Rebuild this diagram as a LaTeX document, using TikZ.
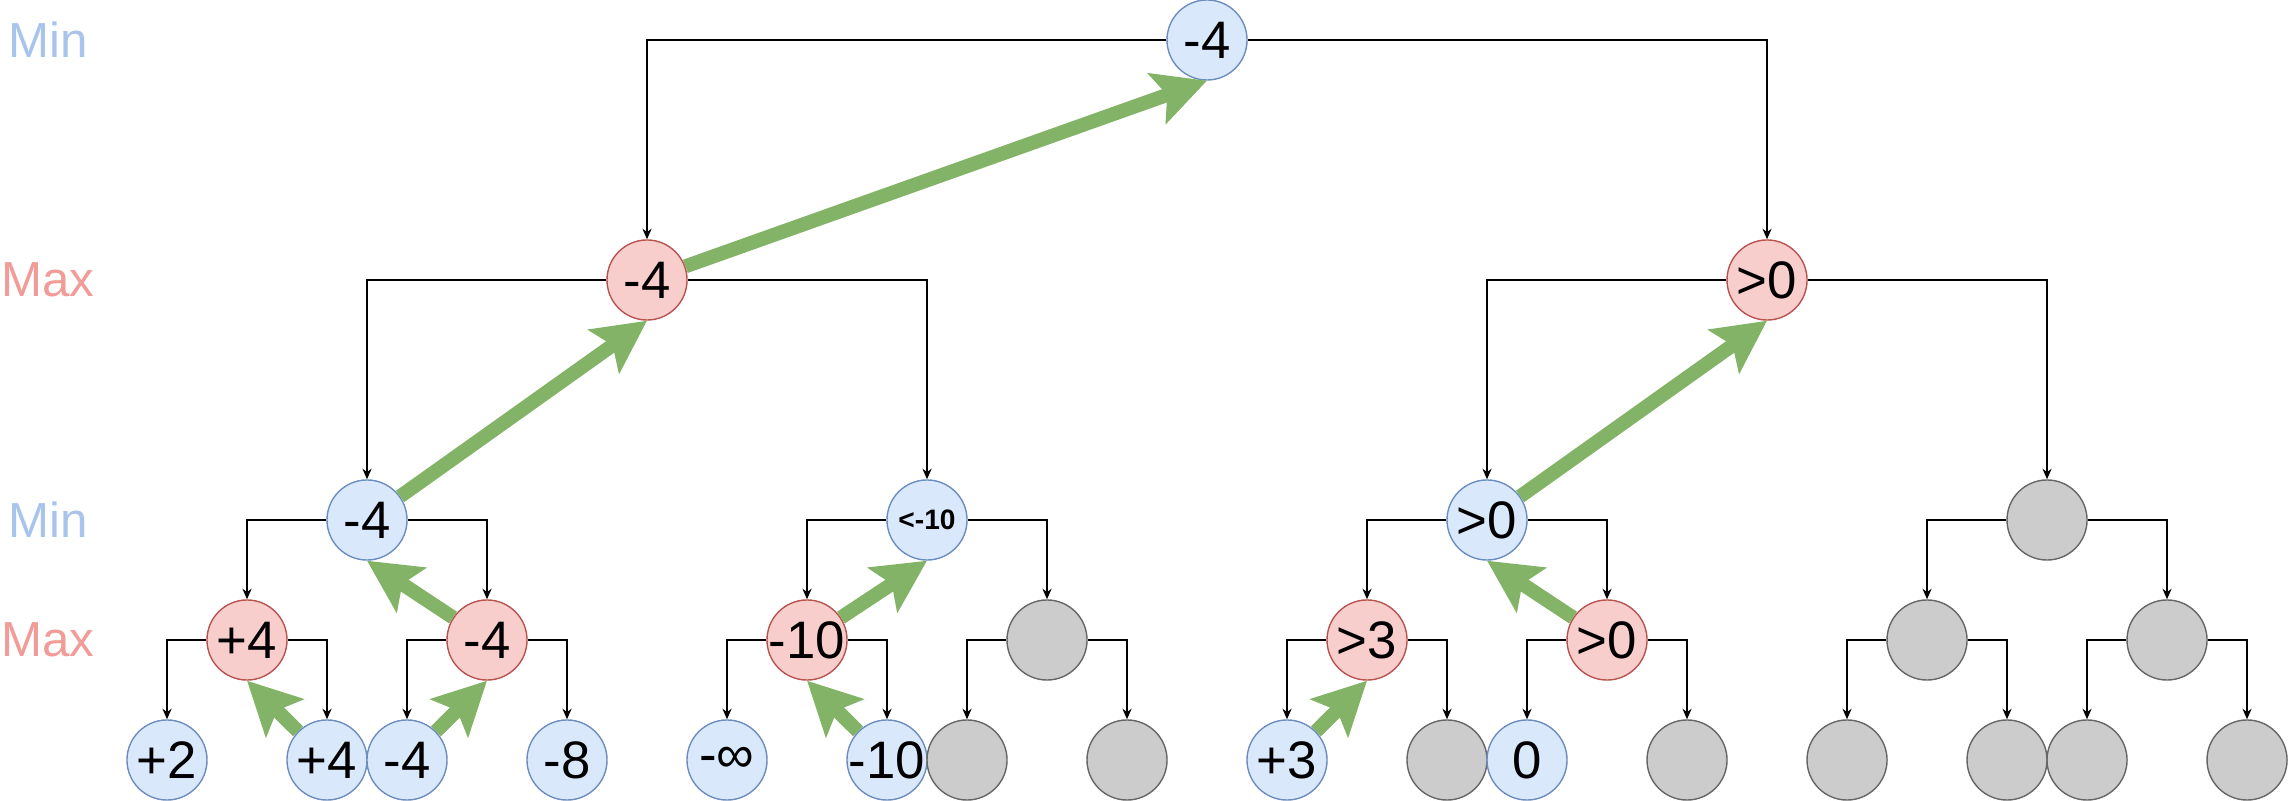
\documentclass[tikz,border=0pt]{standalone}
\usepackage{fontspec}
\setmainfont{Liberation Sans}
\usetikzlibrary{arrows.meta}

\begin{document}
\begin{tikzpicture}[x=0.01cm, y=-0.01cm, >={Stealth[length=3pt,width=2.6pt]}]

\definecolor{minfill}{HTML}{DAE8FC}
\definecolor{minline}{HTML}{6C8EBF}
\definecolor{maxfill}{HTML}{F8CECC}
\definecolor{maxline}{HTML}{B85450}
\definecolor{cutfill}{HTML}{CCCCCC}
\definecolor{cutline}{HTML}{666666}
\definecolor{upgreen}{HTML}{82B366}
\definecolor{minlabel}{HTML}{A9C4EB}
\definecolor{maxlabel}{HTML}{F19C99}

\useasboundingbox (0,0) rectangle (2289,801);

\tikzset{
    state/.style={
        circle, draw=#1line, fill=#1fill, line width=0.4pt,
        minimum size=0.8cm, inner sep=0pt,
        font=\fontsize{15}{17}\selectfont
    },
    minnode/.style={state=min},
    maxnode/.style={state=max},
    cutnode/.style={state=cut},
    level label/.style={font=\fontsize{14}{16}\selectfont, text=#1},
    edge/.style={draw, line width=0.4pt, ->},
    backup/.style={
        draw=upgreen, line width=4pt,
        -{Stealth[length=15pt,width=15pt,inset=3pt]}
    }
}

% Level labels
\node[level label=minlabel] (lab0) at (48,40) {Min};
\node[level label=maxlabel] (lab1) at (48,280) {Max};
\node[level label=minlabel] (lab2) at (48,520) {Min};
\node[level label=maxlabel] (lab3) at (48,640) {Max};

% ROOT
\node[minnode] (t) at (1207,40) {-4};

% LEVEL 1 (max)
\node[maxnode] (tL) at (647,280) {-4};
\node[maxnode] (tR) at (1767,280) {>0};

% LEVEL 2 (min)
\node[minnode] (tLL) at (367,520) {-4};
\node[minnode, font=\bfseries\fontsize{8}{10}\selectfont] (tLR) at (927,520) {<-10};
\node[minnode] (tRL) at (1487,520) {>0};
\node[cutnode] (tRR) at (2047,520) {};

% LEVEL 3 (max)
\node[maxnode] (tLLL) at (247,640) {+4};
\node[maxnode] (tLLR) at (487,640) {-4};
\node[maxnode] (tLRL) at (807,640) {\makebox[0pt]{-10}};
\node[cutnode] (tLRR) at (1047,640) {};
\node[maxnode] (tRLL) at (1367,640) {>3};
\node[maxnode] (tRLR) at (1607,640) {>0};
\node[cutnode] (tRRL) at (1927,640) {};
\node[cutnode] (tRRR) at (2167,640) {};

% LEAVES
\node[minnode] (l1) at (167,760) {+2};
\node[minnode] (l2) at (327,760) {+4};
\node[minnode] (l3) at (407,760) {-4};
\node[minnode] (l4) at (567,760) {-8};
\node[minnode] (l5) at (727,760) {-∞};
\node[minnode] (l6) at (887,760) {\makebox[0pt]{-10}};
\node[cutnode] (l7) at (967,760) {};
\node[cutnode] (l8) at (1127,760) {};
\node[minnode] (l9) at (1287,760) {+3};
\node[cutnode] (l10) at (1447,760) {};
\node[minnode] (l11) at (1527,760) {0};
\node[cutnode] (l12) at (1687,760) {};
\node[cutnode] (l13) at (1847,760) {};
\node[cutnode] (l14) at (2007,760) {};
\node[cutnode] (l15) at (2087,760) {};
\node[cutnode] (l16) at (2247,760) {};

% --- TREE EDGES ---
\draw[edge] (t.west) -| (tL.north);
\draw[edge] (t.east) -| (tR.north);

\draw[edge] (tL.west) -| (tLL.north);
\draw[edge] (tL.east) -| (tLR.north);
\draw[edge] (tR.west) -| (tRL.north);
\draw[edge] (tR.east) -| (tRR.north);

\draw[edge] (tLL.west) -| (tLLL.north);
\draw[edge] (tLL.east) -| (tLLR.north);
\draw[edge] (tLR.west) -| (tLRL.north);
\draw[edge] (tLR.east) -| (tLRR.north);
\draw[edge] (tRL.west) -| (tRLL.north);
\draw[edge] (tRL.east) -| (tRLR.north);
\draw[edge] (tRR.west) -| (tRRL.north);
\draw[edge] (tRR.east) -| (tRRR.north);

\draw[edge] (tLLL.west) -| (l1.north);
\draw[edge] (tLLL.east) -| (l2.north);
\draw[edge] (tLLR.west) -| (l3.north);
\draw[edge] (tLLR.east) -| (l4.north);
\draw[edge] (tLRL.west) -| (l5.north);
\draw[edge] (tLRL.east) -| (l6.north);
\draw[edge] (tLRR.west) -| (l7.north);
\draw[edge] (tLRR.east) -| (l8.north);
\draw[edge] (tRLL.west) -| (l9.north);
\draw[edge] (tRLL.east) -| (l10.north);
\draw[edge] (tRLR.west) -| (l11.north);
\draw[edge] (tRLR.east) -| (l12.north);
\draw[edge] (tRRL.west) -| (l13.north);
\draw[edge] (tRRL.east) -| (l14.north);
\draw[edge] (tRRR.west) -| (l15.north);
\draw[edge] (tRRR.east) -| (l16.north);

% --- VALUES PASSED UP ---
\draw[backup] (tL) -- (t.south);
\draw[backup] (tLL) -- (tL.south);
\draw[backup] (tRL) -- (tR.south);
\draw[backup] (tLLR) -- (tLL.south);
\draw[backup] (tLRL) -- (tLR.south);
\draw[backup] (tRLR) -- (tRL.south);
\draw[backup] (l2) -- (tLLL.south);
\draw[backup] (l3) -- (tLLR.south);
\draw[backup] (l6) -- (tLRL.south);
\draw[backup] (l9) -- (tRLL.south);

\end{tikzpicture}
\end{document}
